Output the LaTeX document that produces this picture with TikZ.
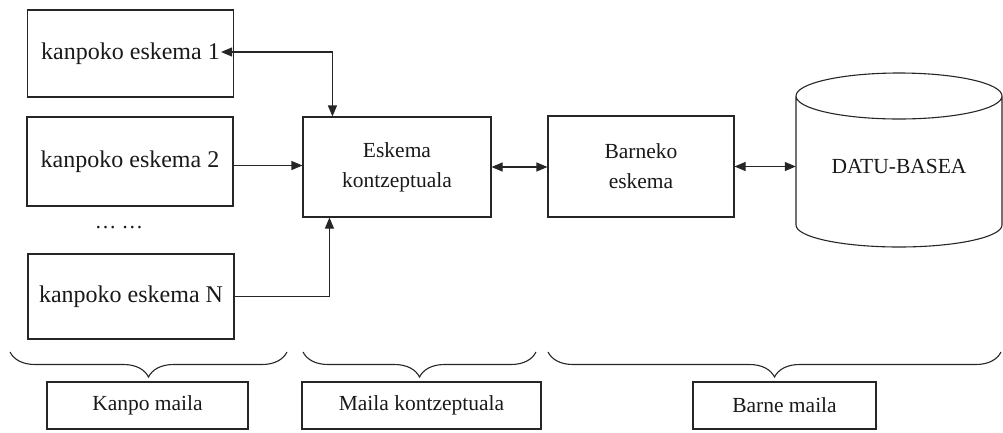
\documentclass[tikz,border=0pt]{standalone}
\usepackage{fontspec}
\setmainfont{Liberation Serif}
\usetikzlibrary{arrows.meta,calc,decorations.pathreplacing}
\definecolor{linec}{gray}{0.15}
\definecolor{textc}{gray}{0.1}
\begin{document}
\begin{tikzpicture}[x=1pt,y=-1pt,
  schemabox/.style={draw=linec, line width=1.1pt, text=textc, inner sep=0pt,
    minimum width=206pt, font=\fontsize{24}{28}\selectfont},
  midbox/.style={draw=linec, line width=1.1pt, text=textc, inner sep=0pt,
    align=center, font=\fontsize{21.5}{30}\selectfont},
  levelbox/.style={draw=linec, line width=1.1pt, text=textc, inner sep=0pt,
    minimum height=47pt, font=\fontsize{21.5}{26}\selectfont},
  tip/.tip={Triangle[length=11pt,width=9pt]},
  conn/.style={draw=linec, line width=1.1pt, -tip},
  biconn/.style={draw=linec, line width=1.1pt, tip-tip},
  levelbrace/.style={draw=linec, line width=1.1pt, decorate,
    decoration={brace, mirror, amplitude=25pt}}]
\useasboundingbox (0,0) rectangle (1003,432);

% external schemas
\node[schemabox, minimum height=87pt] (k1) at (130.5,53.5) {kanpoko eskema 1};
\node[schemabox, minimum height=89pt] (k2) at (130,161.5) {kanpoko eskema 2};
\node[text=textc, font=\fontsize{21.5}{26}\selectfont] (dots) at (119,228) {…\ …};
\node[schemabox, minimum height=85pt] (kN) at (131,296.5) {kanpoko eskema N};

% conceptual and internal schemas
\node[midbox, minimum width=188pt, minimum height=100pt] (conc) at (397,167)
  {Eskema\\kontzeptuala};
\node[midbox, minimum width=186pt, minimum height=101pt] (barn) at (641,166.5)
  {Barneko\\eskema};

% database cylinder
\draw[draw=linec, line width=1.1pt]
  (899,96) ellipse[x radius=103pt, y radius=23pt]
  (796,96) -- (796,225) arc[start angle=180, end angle=360, x radius=103pt, y radius=22pt]
  -- (1002,96);
\node[text=textc, font=\fontsize{21.5}{26}\selectfont, minimum width=206pt,
  minimum height=130pt, inner sep=0pt] (db) at (899,166) {DATU-BASEA};

% connectors
\draw[biconn] ([xshift=-13pt,yshift=1.5pt]k1.east) -| ($(conc.north west)+(30,0)$);
\draw[conn] ([yshift=-4pt]k2.east) -- ([yshift=-4pt]k2.east -| conc.west);
\draw[conn] (kN.east) -| ($(conc.south west)+(27,0)$);
\draw[biconn] (conc.east) -- (conc.east -| barn.west);
\draw[biconn] (barn.east) -- (barn.east -| db.west);

% level braces
\draw[levelbrace] (10,352) -- (287,352);
\draw[levelbrace] (303,352) -- (536,352);
\draw[levelbrace] (548,352) -- (1001,352);

% level labels
\node[levelbox, minimum width=201pt] (ext) at (147.5,405.5) {Kanpo maila};
\node[levelbox, minimum width=239pt] (cpt) at (421.5,405.5) {Maila kontzeptuala};
\node[levelbox, minimum width=183pt] (int) at (784.5,405.5) {Barne maila};
\end{tikzpicture}
\end{document}
